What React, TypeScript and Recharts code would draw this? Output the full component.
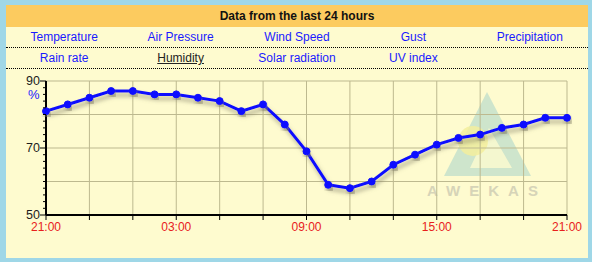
import { LineChart, Line, XAxis, YAxis, CartesianGrid } from "recharts";

// hours after 21:00, one reading per hour
const hourOffsets = [0, 1, 2, 3, 4, 5, 6, 7, 8, 9, 10, 11, 12, 13, 14, 15, 16, 17, 18, 19, 20, 21, 22, 23, 24];
const humidity = [81, 83, 85, 87, 87, 86, 86, 85, 84, 81, 83, 77, 69, 59, 58, 60, 65, 68, 71, 73, 74, 76, 77, 79, 79];

const xTicks = [0, 2, 4, 6, 8, 10, 12, 14, 16, 18, 20, 22, 24];
const xLabels: Record<number, string> = { 0: "21:00", 6: "03:00", 12: "09:00", 18: "15:00", 24: "21:00" };
const yTicks = [50, 52, 54, 56, 58, 60, 62, 64, 66, 68, 70, 72, 74, 76, 78, 80, 82, 84, 86, 88, 90];
const yLabels = [50, 70, 90];
const yGrid = [60, 70, 80, 90];

const menuRow1 = ["Temperature", "Air Pressure", "Wind Speed", "Gust", "Precipitation"];
const menuRow2 = ["Rain rate", "Humidity", "Solar radiation", "UV index", ""];
const activeItem = "Humidity";

const data = hourOffsets.map((h, i) => ({ h, value: humidity[i] }));

const AXIS_X = 46;

const YTick = (props: any) => {
  const { y, payload } = props;
  const major = yLabels.includes(payload.value);
  return (
    <g>
      <line x1={AXIS_X - (major ? 6 : 3)} x2={AXIS_X} y1={y} y2={y} stroke="#000" strokeWidth={1} />
      {major && (
        <text x={AXIS_X - 6} y={y + 4} textAnchor="end" fontSize={12.5} fill="#1c1c1c" fontFamily="Liberation Sans, Arial">
          {payload.value}
        </text>
      )}
    </g>
  );
};

const XTick = (props: any) => {
  const { x, y, payload } = props;
  const label = xLabels[payload.value];
  if (!label) return <g />;
  return (
    <text x={x} y={y + 9} textAnchor="middle" fontSize={12} fill="#e8201c" fontFamily="Liberation Sans, Arial">
      {label}
    </text>
  );
};

function MenuRow({ items }: { items: string[] }) {
  return (
    <div
      style={{
        display: "flex",
        height: 20,
        alignItems: "center",
        borderBottom: "1px dotted #000",
      }}
    >
      {items.map((item, i) => (
        <div
          key={i}
          style={{
            flex: 1,
            textAlign: "center",
            color: item === activeItem ? "#222" : "#1a1aff",
            textDecoration: item === activeItem ? "underline" : "none",
          }}
        >
          {item}
        </div>
      ))}
    </div>
  );
}

export default function App() {
  return (
    <div
      style={{
        position: "absolute",
        left: 0,
        top: 0,
        width: 592,
        height: 262,
        background: "#9fd7e7",
        fontFamily: "Liberation Sans, Arial, sans-serif",
        fontSize: 12,
      }}
    >
      <div
        style={{
          position: "absolute",
          left: 6,
          top: 5,
          width: 582,
          height: 253,
          background: "#fefbcf",
        }}
      >
        <div
          style={{
            height: 22,
            lineHeight: "22px",
            background: "#fccb5f",
            textAlign: "center",
            fontWeight: "bold",
            color: "#111",
          }}
        >
          Data from the last 24 hours
        </div>
        <MenuRow items={menuRow1} />
        <MenuRow items={menuRow2} />
      </div>

      {/* AWEKAS watermark */}
      <svg width={592} height={262} style={{ position: "absolute", left: 0, top: 0 }}>
        <polygon points="487,92 444,176 531,176" fill="#b9dccb" opacity={0.7} />
        <polygon points="489,128 470,168 512,168" fill="#fefbcf" opacity={0.8} />
        <circle cx={473} cy={141} r={15} fill="#f3ef9c" opacity={0.85} />
        <text x={487} y={196} textAnchor="middle" fontSize={15} fontWeight="bold" letterSpacing={9} fill="#d6d4b8" fontFamily="Liberation Sans, Arial">
          AWEKAS
        </text>
      </svg>

      <div style={{ position: "absolute", left: 0, top: 0 }}>
        <LineChart
          width={592}
          height={262}
          data={data}
          margin={{ top: 81, right: 25, bottom: 17, left: 16 }}
        >
          <defs>
            <filter id="lineShadow" x="-10%" y="-10%" width="120%" height="140%">
              <feDropShadow dx={2} dy={4} stdDeviation={2} floodColor="#7a7660" floodOpacity={0.6} />
            </filter>
          </defs>
          <CartesianGrid stroke="#bdb98f" horizontalValues={yGrid} verticalValues={xTicks} />
          <XAxis
            dataKey="h"
            type="number"
            domain={[0, 24]}
            ticks={xTicks}
            interval={0}
            height={30}
            tickSize={5}
            tickLine={{ stroke: "#000" }}
            axisLine={{ stroke: "#000", strokeWidth: 2 }}
            tick={<XTick />}
          />
          <YAxis
            type="number"
            domain={[50, 90]}
            ticks={yTicks}
            interval={0}
            width={30}
            tickLine={false}
            axisLine={{ stroke: "#000", strokeWidth: 2 }}
            tick={<YTick />}
          />
          <Line
            dataKey="value"
            type="linear"
            stroke="#0a0aff"
            strokeWidth={3}
            filter="url(#lineShadow)"
            dot={{ r: 3.5, fill: "#0a0aff", stroke: "#0a0aff", strokeWidth: 1 }}
            isAnimationActive={false}
          />
        </LineChart>
      </div>

      <div
        style={{
          position: "absolute",
          left: 28,
          top: 87,
          color: "#1a1aff",
          fontSize: 13,
        }}
      >
        %
      </div>
    </div>
  );
}
